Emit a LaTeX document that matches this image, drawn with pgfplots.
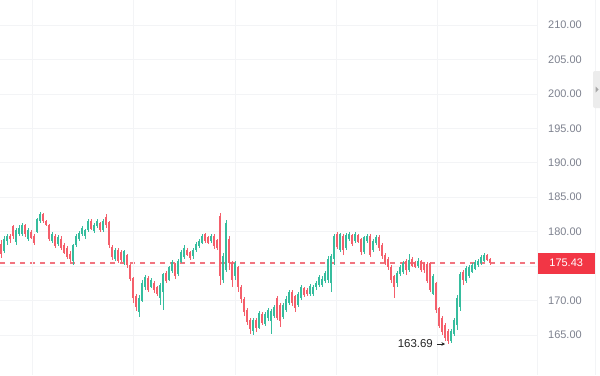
\documentclass[border=0pt]{standalone}
\usepackage{fontspec}
\setmainfont{Liberation Sans}
\usepackage{pgfplots}
\usepackage{pgfplotstable}
\pgfplotsset{compat=1.18}
\usetikzlibrary{arrows.meta}
\definecolor{upc}{HTML}{36BD9E}
\definecolor{dnc}{HTML}{F45F6B}
\definecolor{dashc}{HTML}{F2747F}
\definecolor{lblc}{HTML}{F23645}
\definecolor{tickc}{HTML}{7E828F}
\definecolor{gridc}{HTML}{F3F4F6}
\pgfplotstableread{
i o h l c
0 178.2 178.8 176.2 176.8
1 177.2 179.3 176.9 178.9
2 178.6 179.6 178.1 179.3
3 179.3 179.7 178.4 178.9
4 180.8 181.0 179.0 179.3
5 178.5 180.5 178.1 180.3
6 179.6 180.9 179.3 180.5
7 179.6 181.2 179.3 181.0
8 180.9 181.1 179.2 179.6
9 179.0 180.6 178.7 180.3
10 179.9 180.2 178.9 179.1
11 179.4 179.6 178.0 178.4
12 180.0 182.0 179.8 181.8
13 181.5 182.8 181.3 182.5
14 182.6 182.7 181.2 181.6
15 181.6 181.7 180.8 181.0
16 181.0 181.1 178.6 178.9
17 178.7 179.9 178.4 179.7
18 179.4 179.6 177.6 177.9
19 178.2 179.5 177.9 179.2
20 179.0 179.3 177.4 177.7
21 178.0 178.3 176.7 176.9
22 177.6 177.9 176.0 176.3
23 176.8 177.2 175.6 176.0
24 175.7 178.2 175.1 178.0
25 178.0 179.6 177.8 179.3
26 179.0 180.1 178.7 179.8
27 179.6 180.8 179.3 180.6
28 179.3 180.4 178.9 180.2
29 180.2 181.8 180.0 181.6
30 181.6 181.8 180.2 180.4
31 180.1 181.2 179.8 181.0
32 180.8 181.9 180.5 181.6
33 181.2 181.4 179.9 180.2
34 180.2 181.8 179.9 181.6
35 182.2 182.5 180.6 180.9
36 181.4 181.6 177.6 178.0
37 177.8 178.0 175.9 176.3
38 176.0 177.6 175.8 177.3
39 177.4 177.6 175.4 175.8
40 177.1 177.3 175.6 175.9
41 175.6 177.4 175.2 177.2
42 176.6 176.8 174.7 175.1
43 175.1 175.3 172.9 173.2
44 173.2 173.4 169.7 170.3
45 170.6 171.0 168.5 169.0
46 168.3 170.8 167.6 170.4
47 170.0 173.0 169.8 172.6
48 171.9 173.7 171.5 173.4
49 173.3 173.5 171.3 171.6
50 172.0 173.3 171.8 173.0
51 172.6 172.8 171.1 171.5
52 171.9 172.1 170.6 170.9
53 170.4 172.6 169.3 172.3
54 171.2 174.0 168.7 173.8
55 174.0 174.3 172.5 172.8
56 173.0 175.0 172.8 174.8
57 174.3 175.9 174.0 175.6
58 175.3 175.5 173.1 173.6
59 173.8 176.0 173.5 175.7
60 175.6 177.4 175.4 177.1
61 176.3 178.0 176.0 177.7
62 177.4 177.6 176.4 176.6
63 177.0 177.2 175.9 176.2
64 176.4 177.7 176.1 177.4
65 177.4 178.5 177.1 178.2
66 177.9 179.0 177.6 178.7
67 178.4 179.7 178.2 179.3
68 179.6 179.8 178.4 178.6
69 179.2 179.4 178.2 178.4
70 178.6 179.6 178.4 179.4
71 179.4 179.6 177.5 177.9
72 178.8 179.0 177.3 177.6
73 182.3 182.7 172.2 173.5
74 173.0 176.9 172.5 176.5
75 174.5 181.7 174.2 181.2
76 179.0 179.3 174.5 175.4
77 175.5 175.8 172.0 173.0
78 173.5 175.8 173.0 175.5
79 174.8 175.0 171.3 172.0
80 172.0 172.3 169.6 170.2
81 170.2 170.5 167.8 168.4
82 168.6 168.9 166.4 166.9
83 167.2 167.5 165.1 165.8
84 165.6 167.5 165.0 167.2
85 167.2 167.4 165.5 166.0
86 166.0 168.5 165.8 168.2
87 168.0 168.3 166.5 166.8
88 166.6 168.3 166.3 168.0
89 167.4 168.9 167.1 168.6
90 167.0 168.8 165.2 168.5
91 167.8 169.3 167.5 169.0
92 170.3 170.6 167.2 167.5
93 169.3 169.6 166.1 167.0
94 167.6 169.7 167.3 169.4
95 168.6 170.6 168.3 170.2
96 169.6 171.6 169.3 171.3
97 171.3 171.6 169.2 169.6
98 170.6 170.8 168.4 168.9
99 169.4 171.2 169.1 170.9
100 170.4 172.3 170.1 172.0
101 171.8 172.0 170.5 170.8
102 171.6 171.8 170.7 170.9
103 170.9 172.4 170.6 172.1
104 171.0 172.3 170.6 172.0
105 171.9 172.9 171.6 172.6
106 172.2 173.7 172.0 173.4
107 172.2 173.5 172.0 173.2
108 172.8 174.3 172.5 174.0
109 173.0 176.5 172.6 176.0
110 172.5 176.7 171.3 176.4
111 176.0 179.6 175.2 179.4
112 179.6 180.0 177.5 177.8
113 177.4 179.8 177.0 179.6
114 179.3 179.7 176.6 177.3
115 177.6 179.8 177.3 179.5
116 179.0 179.9 178.7 179.7
117 179.5 179.7 177.9 178.2
118 178.7 179.9 178.4 179.6
119 179.5 179.7 178.3 178.5
120 178.9 179.1 176.6 177.0
121 177.0 179.4 176.7 179.2
122 178.6 179.6 178.3 179.3
123 179.4 179.6 176.3 176.6
124 177.3 178.9 177.0 178.6
125 178.3 179.5 178.1 179.2
126 179.2 179.5 177.2 177.7
127 178.1 178.4 176.1 176.4
128 176.6 176.9 175.2 175.5
129 176.0 176.3 174.5 174.9
130 174.9 175.2 172.5 173.0
131 173.5 173.7 170.4 172.0
132 172.5 174.3 172.0 174.0
133 173.8 175.1 173.5 174.9
134 174.2 175.7 173.9 175.4
135 175.8 176.0 173.7 174.5
136 174.5 176.7 174.2 175.9
137 176.0 176.3 174.8 175.0
138 175.6 175.8 174.7 174.9
139 175.0 176.2 174.7 175.8
140 175.7 175.9 174.2 174.5
141 175.4 175.6 174.0 174.4
142 175.3 175.6 172.5 172.8
143 175.5 175.6 171.2 171.5
144 171.0 173.8 170.8 173.5
145 172.5 172.7 168.2 168.6
146 168.9 169.1 166.0 166.3
147 167.5 167.7 165.0 165.4
148 166.5 166.8 164.1 164.5
149 165.6 165.9 163.69 164.2
150 164.2 165.9 163.9 165.6
151 165.2 167.5 164.8 167.2
152 166.5 170.8 165.7 170.4
153 169.0 174.1 168.5 173.8
154 174.2 174.5 172.2 173.0
155 172.9 175.0 172.6 174.7
156 173.6 175.2 173.3 174.9
157 174.2 175.5 174.0 175.2
158 174.6 175.9 174.4 175.6
159 175.1 176.1 174.9 175.8
160 175.4 176.6 175.2 176.3
161 175.8 176.9 175.6 176.6
162 176.6 176.8 175.7 175.9
163 176.0 176.2 175.2 175.43
}\data
\begin{document}
\begin{tikzpicture}[x=1bp,y=1bp]
\useasboundingbox (0,0) rectangle (600,375);
\fill[white] (0,0) rectangle (600,375);
% last price line (y of 175.43 in the axis below)
\draw[color=dashc, line width=1.3bp, dash pattern=on 5bp off 5bp] (0,111.87) -- (537,111.87);
\begin{axis}[
  at={(0,0)}, anchor=south west,
  scale only axis, width=537bp, height=375bp,
  xmin=-0.3333, xmax=178.6667, ymin=159.19, ymax=213.63,
  axis line style={draw=none},
  major tick length=0pt, tick style={draw=none},
  xtick={10.33,44,78,111.67,145.33},
  xmajorticks=false, xmajorgrids=true, ymajorgrids=true,
  ytick={165,170,175,180,185,190,195,200,205,210},
  yticklabels={165.00,170.00,{},180.00,185.00,190.00,195.00,200.00,205.00,210.00},
  yticklabel pos=right,
  yticklabel style={anchor=west, inner sep=0pt, xshift=11bp, text=tickc, font=\fontsize{11}{13}\selectfont},
  grid style={draw=gridc, line width=0.7bp},
  clip=false,
]
% wicks up
\addplot[draw=none, mark=none, forget plot, error bars/.cd, y dir=both, y explicit, error mark=none,
  error bar style={draw=upc, line width=0.8bp, solid}]
  table[x=i, y expr={\thisrow{c}>=\thisrow{o} ? (\thisrow{h}+\thisrow{l})/2 : nan},
        y error expr={(\thisrow{h}-\thisrow{l})/2}] {\data};
% wicks down
\addplot[draw=none, mark=none, forget plot, error bars/.cd, y dir=both, y explicit, error mark=none,
  error bar style={draw=dnc, line width=0.8bp, solid}]
  table[x=i, y expr={\thisrow{c}<\thisrow{o} ? (\thisrow{h}+\thisrow{l})/2 : nan},
        y error expr={(\thisrow{h}-\thisrow{l})/2}] {\data};
% bodies up
\addplot[draw=none, mark=none, forget plot, error bars/.cd, y dir=both, y explicit, error mark=none,
  error bar style={draw=upc, line width=1.6bp, solid}]
  table[x=i, y expr={\thisrow{c}>=\thisrow{o} ? (\thisrow{o}+\thisrow{c})/2 : nan},
        y error expr={max(abs(\thisrow{c}-\thisrow{o})/2,0.05)}] {\data};
% bodies down
\addplot[draw=none, mark=none, forget plot, error bars/.cd, y dir=both, y explicit, error mark=none,
  error bar style={draw=dnc, line width=1.6bp, solid}]
  table[x=i, y expr={\thisrow{c}<\thisrow{o} ? (\thisrow{o}+\thisrow{c})/2 : nan},
        y error expr={max(abs(\thisrow{c}-\thisrow{o})/2,0.05)}] {\data};
% last price label
\node[fill=lblc, text=white, anchor=west, minimum width=58bp, minimum height=21bp, inner sep=0pt,
  font=\fontsize{11}{13}\selectfont] at (axis cs:178.6667,175.43) {175.43};
% low label
\node[anchor=east, inner sep=0pt, text=black!85, font=\fontsize{11.5}{13}\selectfont]
  at ([xshift=-15bp]axis cs:149,163.69) {163.69};
\draw[black!85, line width=0.9bp, -{Stealth[length=3.5bp,width=3.5bp]}]
  ([xshift=-11bp]axis cs:149,163.69) -- ([xshift=-3bp]axis cs:149,163.69);
\end{axis}
% right scale separator and tab
\draw[gridc, line width=0.8bp] (537,0) -- (537,375);
\draw[gridc, line width=0.8bp] (595,0) -- (595,375);
\fill[gray!15, rounded corners=2bp] (593,267) rectangle (602,304);
\fill[gray!70] (595.5,288.5) -- (598.5,285.5) -- (595.5,282.5) -- cycle;
\end{tikzpicture}
\end{document}
